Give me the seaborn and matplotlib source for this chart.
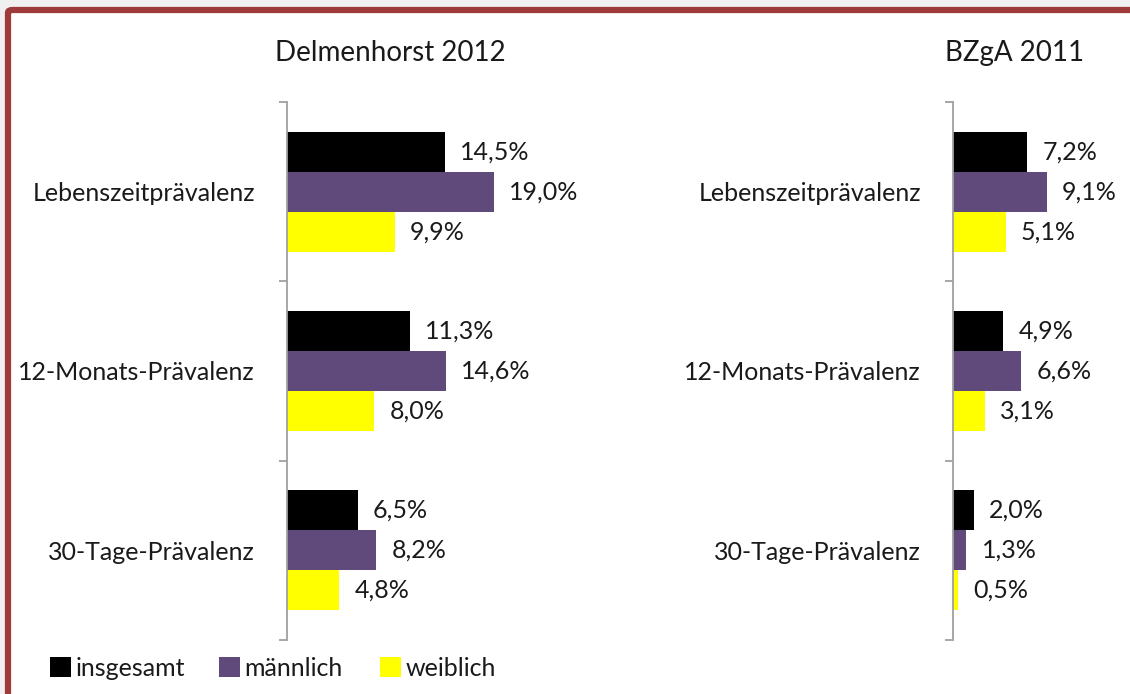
import matplotlib
matplotlib.use("Agg")
import matplotlib.pyplot as plt
import seaborn as sns
import pandas as pd
from matplotlib.patches import Patch, FancyBboxPatch

# data
categories = ["Lebenszeitprävalenz", "12-Monats-Prävalenz", "30-Tage-Prävalenz"]
groups = ["insgesamt", "männlich", "weiblich"]
delmenhorst_2012 = {
    "insgesamt": [14.5, 11.3, 6.5],
    "männlich": [19.0, 14.6, 8.2],
    "weiblich": [9.9, 8.0, 4.8],
}
bzga_2011 = {
    "insgesamt": [7.2, 4.9, 2.0],
    "männlich": [9.1, 6.6, 1.3],
    "weiblich": [5.1, 3.1, 0.5],
}
panel_titles = ["Delmenhorst 2012", "BZgA 2011"]
colors = ["#000000", "#604A7B", "#FFFF00"]


def to_frame(d):
    rows = []
    for g in groups:
        for c, v in zip(categories, d[g]):
            rows.append({"Kategorie": c, "Gruppe": g, "Wert": v})
    return pd.DataFrame(rows)


sns.set_style("white")
plt.rcParams["font.family"] = ["Lato", "DejaVu Sans"]
txt = "#1a1a1a"
fs = 18

W, H = 1130, 694
fig = plt.figure(figsize=(W / 100, H / 100), dpi=100)
fig.patch.set_facecolor("#F0F0F0")

# red frame (runs off the right/bottom edge like the screenshot)
frame = FancyBboxPatch((8 / W, -20 / H), 1.5, (H + 20 - 10) / H,
                       boxstyle="round,pad=0,rounding_size=0.004",
                       transform=fig.transFigure, facecolor="white",
                       edgecolor="#9E3A3A", linewidth=4.5, zorder=-5)
fig.patches.append(frame)

# axes positions in pixels: (left, right) of bar area
panels = [(287, 559, 25.0), (953, 1128, 17.0)]
top, bottom = 102, 640

for i, (data, title) in enumerate(zip([delmenhorst_2012, bzga_2011], panel_titles)):
    x0, x1, xmax = panels[i]
    ax = fig.add_axes([x0 / W, 1 - bottom / H, (x1 - x0) / W, (bottom - top) / H])
    ax.set_facecolor("none")
    df = to_frame(data)
    sns.barplot(data=df, y="Kategorie", x="Wert", hue="Gruppe", order=categories,
                hue_order=groups, palette=colors, width=0.67, linewidth=0,
                saturation=1, orient="h", legend=False, ax=ax)
    ax.set_xlim(0, xmax)
    ax.set_ylim(2.5, -0.5)
    ax.set_xlabel("")
    ax.set_ylabel("")
    for s in ["top", "right", "bottom"]:
        ax.spines[s].set_visible(False)
    ax.spines["left"].set_color("#A0A0A0")
    ax.spines["left"].set_linewidth(1.3)
    ax.set_xticks([])
    ax.set_yticks(range(len(categories)))
    ax.set_yticklabels(categories, fontsize=fs, color=txt)
    ax.tick_params(axis="y", which="major", length=0, pad=23)
    ax.set_yticks([-0.5, 0.5, 1.5, 2.5], minor=True)
    ax.tick_params(axis="y", which="minor", length=6, width=1.3, color="#A0A0A0",
                   direction="out", left=True)

    for cont in ax.containers:
        labels = [f"{v:.1f}%".replace(".", ",") for v in cont.datavalues]
        ax.bar_label(cont, labels=labels, padding=11, fontsize=fs, color=txt)

    cx = 390 if i == 0 else 1015
    fig.text(cx / W, 1 - 53 / H, title, ha="center", va="center", fontsize=20, color=txt)

# legend entries, one per column like the Excel legend
legend_x = [37, 206, 367]
for g, c, lx in zip(groups, colors, legend_x):
    fig.legend([Patch(facecolor=c, edgecolor="none")], [g], loc="center left",
               bbox_to_anchor=(lx / W, 1 - 668 / H), frameon=False, fontsize=fs,
               handlelength=0.85, handleheight=0.85, handletextpad=0.2,
               borderpad=0, labelcolor=txt)

fig.savefig("out.png", dpi=100, facecolor=fig.get_facecolor())
